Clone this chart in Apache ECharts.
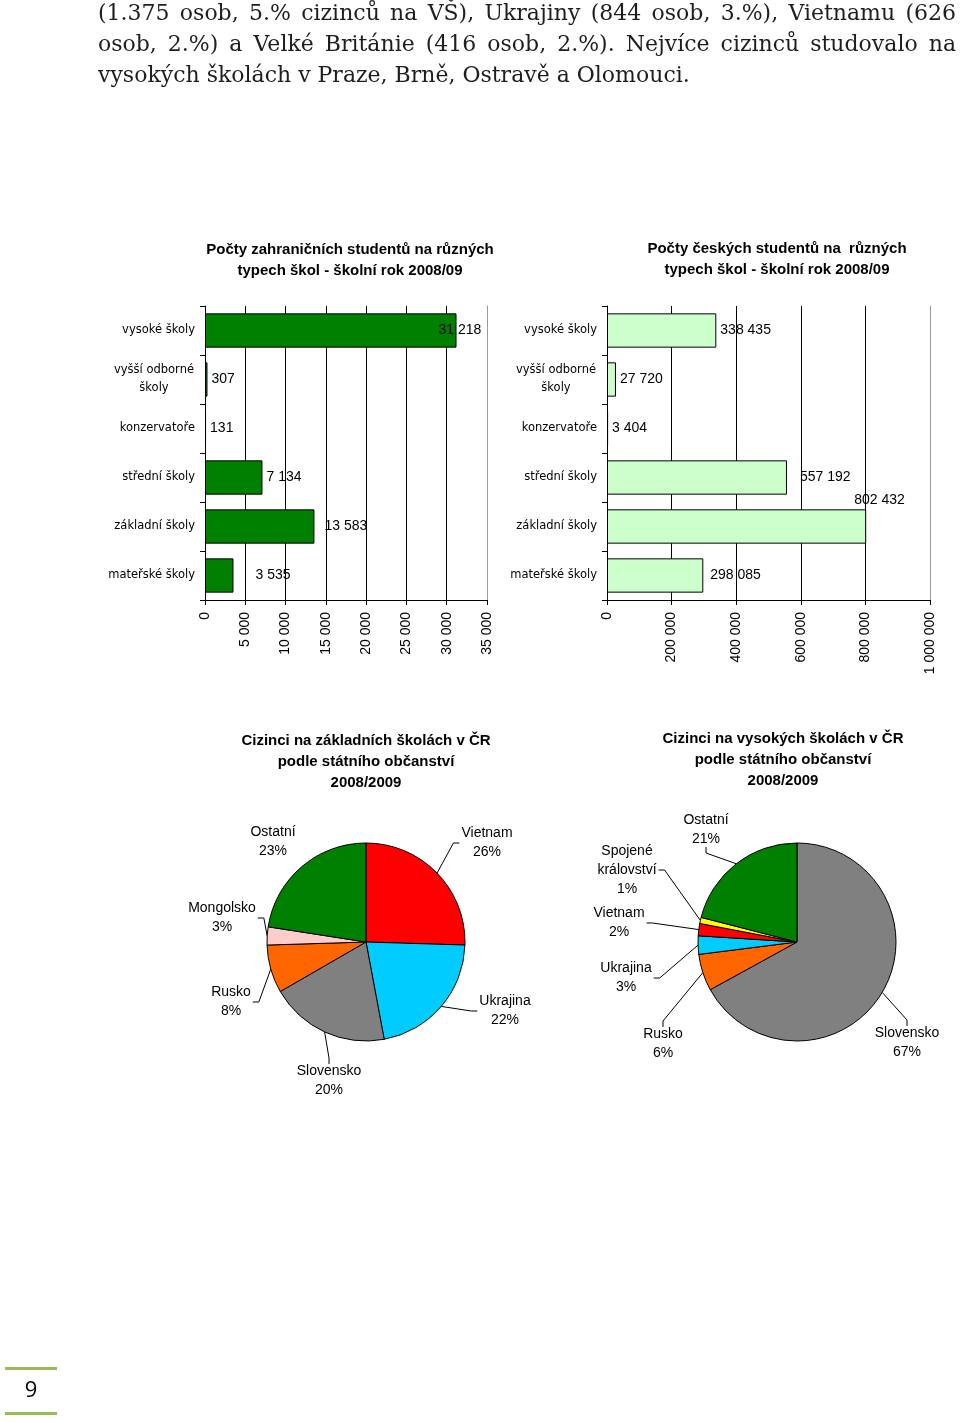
<!DOCTYPE html>
<html lang="cs">
<head>
<meta charset="utf-8">
<title>Cizinci ve školách 2008/09</title>
<script src="https://cdn.jsdelivr.net/npm/echarts@6/dist/echarts.min.js"></script>
<style>
  html, body { margin: 0; padding: 0; background: #fff; }
  #page { position: relative; width: 960px; height: 1422px; overflow: hidden; }
  #chart { position: absolute; left: 0; top: 0; width: 960px; height: 1422px; }
  .text {
    position: absolute; left: 98px; top: -3px; width: 858px; z-index: 2;
    font-family: 'DejaVu Serif', serif; font-size: 22px; line-height: 31px; color: #1e1e1e;
  }
  .text div { white-space: nowrap; }
  .text .full { text-align: justify; text-align-last: justify; white-space: normal; }
</style>
</head>
<body>
<div id="page">
  <div class="text">
    <div class="full">(1.375 osob, 5.% cizinců na VŠ), Ukrajiny (844 osob, 3.%), Vietnamu (626</div>
    <div class="full">osob, 2.%) a Velké Británie (416 osob, 2.%). Nejvíce cizinců studovalo na</div>
    <div>vysokých školách v Praze, Brně, Ostravě a Olomouci.</div>
  </div>
  <div id="chart"></div>
</div>
<script>
const schoolTypes = ['vysoké školy', 'vyšší odborné\nškoly', 'konzervatoře', 'střední školy', 'základní školy', 'mateřské školy'];
const foreignStudents = [31218, 307, 131, 7134, 13583, 3535];
const czechStudents = [338435, 27720, 3404, 557192, 802432, 298085];

const basicCountries = ['Vietnam', 'Ukrajina', 'Slovensko', 'Rusko', 'Mongolsko', 'Ostatní'];
const basicShares = [26, 22, 20, 8, 3, 23];
const uniCountries = ['Slovensko', 'Rusko', 'Ukrajina', 'Vietnam', 'Spojené\nkrálovství', 'Ostatní'];
const uniShares = [67, 6, 3, 2, 1, 21];

// label nudges / spots (the labels were hand-placed in the original)
const foreignNudge = [[-22, 0], [0, 0], [0, 0], [0, 0], [6, 0], [18, 0]];
const czechNudge = [[0, 0], [0, 0], [0, 0], [9, 0], [-16, -26], [3, 0]];
const basicLabelSpots = [[487, 843], [505, 1011], [329, 1081], [231, 1002], [222, 918], [273, 842]];
const uniLabelSpots = [[907, 1043], [663, 1044], [626, 978], [619, 923], [627, 870], [706, 830]];
const basicNoLeader = ['Ostatní'];

const countryColors = {
  'Vietnam': '#FF0000', 'Ukrajina': '#00CCFF', 'Slovensko': '#808080', 'Rusko': '#FF6600',
  'Mongolsko': '#FFCCCC', 'Ostatní': '#008000', 'Spojené\nkrálovství': '#FFFF00'
};

const fmt = (v) => String(v).replace(/\B(?=(\d{3})+(?!\d))/g, ' ');
const sans = 'Liberation Sans, Arial, sans-serif';
const catFont = 'DejaVu Sans, sans-serif';

const titleStyle = { fontFamily: sans, fontSize: 15, fontWeight: 'bold', color: '#000', lineHeight: 21 };

const valueAxis = (gridIndex, max, interval) => ({
  type: 'value', gridIndex: gridIndex, min: 0, max: max, interval: interval,
  axisLine: { show: true, lineStyle: { color: '#000', width: 1 } },
  axisTick: { show: true, length: 5, lineStyle: { color: '#000' } },
  axisLabel: { rotate: 90, margin: 12, fontFamily: sans, fontSize: 14, color: '#000', formatter: fmt },
  splitLine: { show: true, showMinLine: false, showMaxLine: false, lineStyle: { color: '#000', width: 1 } }
});

const categoryAxis = (gridIndex) => ({
  type: 'category', gridIndex: gridIndex, data: schoolTypes, inverse: true,
  axisLine: { show: true, lineStyle: { color: '#000', width: 1 } },
  axisTick: { show: true, length: 5, lineStyle: { color: '#000' } },
  axisLabel: {
    margin: 10, fontFamily: catFont, fontSize: 11.5, color: '#000', lineHeight: 18,
    // two-line label: second line centred under the first, like the original
    formatter: (v) => v.indexOf('\n') < 0 ? v : v.split('\n').map((s) => '{c|' + s + '}').join('\n'),
    rich: { c: { width: 82, align: 'center', fontFamily: catFont, fontSize: 11.5, lineHeight: 18, color: '#000' } }
  }
});

const rightBorder = (gridIndex) => ({
  type: 'value', gridIndex: gridIndex, position: 'right', min: 0, max: 1,
  axisLine: { show: true, lineStyle: { color: '#9a9a9a', width: 1 } },
  axisTick: { show: false }, axisLabel: { show: false }, splitLine: { show: false }
});

const barSeries = (idx, values, nudge, color) => ({
  type: 'bar', xAxisIndex: idx, yAxisIndex: idx * 2,
  barCategoryGap: '30%',
  itemStyle: { color: color, borderColor: '#000', borderWidth: 1 },
  label: { show: true, position: 'right', distance: 4, fontFamily: sans, fontSize: 14, color: '#000',
    formatter: (p) => fmt(p.value) },
  data: values.map((v, i) => ({ value: v, label: { offset: nudge[i] } }))
});

// put each pie label at its spot and route the leader line to the nearest side of the label
const pieLabelLayout = (spots) => (params) => {
  const [cx, cy] = spots[params.dataIndex];
  const w = params.labelRect.width;
  const h = params.labelRect.height;
  const out = { x: cx, y: cy, align: 'center', verticalAlign: 'middle' };
  const pts = params.labelLinePoints;
  if (pts && pts.length) {
    const p0 = pts[0];
    const l = cx - w / 2 - 2, r = cx + w / 2 + 2, t = cy - h / 2 + 2, b = cy + h / 2 - 2;
    const cands = [
      { end: [l, cy], elbow: [l - 6, cy] },
      { end: [r, cy], elbow: [r + 6, cy] },
      { end: [cx, t], elbow: [cx, t - 6] },
      { end: [cx, b], elbow: [cx, b + 6] }
    ];
    let best = cands[0], bestD = Infinity;
    cands.forEach((c) => {
      const d = Math.hypot(c.elbow[0] - p0[0], c.elbow[1] - p0[1]);
      if (d < bestD) { bestD = d; best = c; }
    });
    out.labelLinePoints = [p0, best.elbow, best.end];
  }
  return out;
};

const pieSeries = (center, names, values, spots, noLeader) => ({
  type: 'pie', center: center, radius: 99, startAngle: 90, clockwise: true,
  avoidLabelOverlap: false,
  itemStyle: { borderColor: '#000', borderWidth: 1 },
  label: { show: true, position: 'outside', formatter: '{b}\n{c}%', fontFamily: sans, fontSize: 14,
    lineHeight: 19, color: '#000', overflow: 'none', bleedMargin: 0 },
  labelLine: { show: true, length: 4, length2: 0, lineStyle: { color: '#000', width: 1 } },
  labelLayout: pieLabelLayout(spots),
  emphasis: { disabled: true },
  data: names.map((n, i) => ({
    name: n, value: values[i], itemStyle: { color: countryColors[n] },
    labelLine: { show: noLeader.indexOf(n) < 0 }
  }))
});

const chart = echarts.init(document.getElementById('chart'));

const option = {
  animation: false,
  title: [
    { text: 'Počty zahraničních studentů na různých\ntypech škol - školní rok 2008/09', left: 345, top: 234, textAlign: 'center', textStyle: titleStyle },
    { text: 'Počty českých studentů na  různých\ntypech škol - školní rok 2008/09', left: 772, top: 233, textAlign: 'center', textStyle: titleStyle },
    { text: 'Cizinci na základních školách v ČR\npodle státního občanství\n2008/2009', left: 361, top: 725, textAlign: 'center', textStyle: titleStyle },
    { text: 'Cizinci na vysokých školách v ČR\npodle státního občanství\n2008/2009', left: 778, top: 723, textAlign: 'center', textStyle: titleStyle }
  ],
  grid: [
    { left: 205, top: 306, width: 282, height: 294 },
    { left: 607, top: 306, width: 323, height: 294 }
  ],
  xAxis: [valueAxis(0, 35000, 5000), valueAxis(1, 1000000, 200000)],
  yAxis: [categoryAxis(0), rightBorder(0), categoryAxis(1), rightBorder(1)],
  series: [
    barSeries(0, foreignStudents, foreignNudge, '#008000'),
    barSeries(1, czechStudents, czechNudge, '#CCFFCC'),
    pieSeries([366, 942], basicCountries, basicShares, basicLabelSpots, basicNoLeader),
    pieSeries([797, 942], uniCountries, uniShares, uniLabelSpots, [])
  ],
  graphic: [
    { type: 'rect', shape: { x: 5, y: 1367, width: 52, height: 3 }, style: { fill: '#9BBB59' } },
    { type: 'rect', shape: { x: 5, y: 1412, width: 52, height: 3 }, style: { fill: '#9BBB59' } },
    { type: 'text', x: 31, y: 1391, style: { text: '9', font: '22px "Open Sans", sans-serif', fill: '#000', textAlign: 'center', textVerticalAlign: 'middle' } }
  ]
};

chart.setOption(option);
</script>
</body>
</html>
